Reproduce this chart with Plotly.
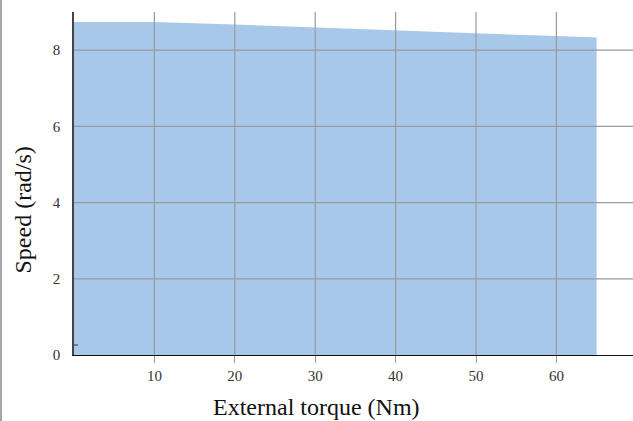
import plotly.graph_objects as go

# Data
torque = [0, 10, 20, 30, 40, 50, 60, 65]
speed = [8.74, 8.74, 8.67, 8.59, 8.52, 8.44, 8.37, 8.33]

x_ticks = [10, 20, 30, 40, 50, 60]
y_ticks = [0, 2, 4, 6, 8]
x_title = "External torque (Nm)"
y_title = "Speed (rad/s)"

W, H = 633, 421
ML, MR, MT, MB = 74, 0, 12, 66
pw, ph = W - ML - MR, H - MT - MB
xmax = pw / 8.04
ymax = 9.0

font = "Liberation Serif, Times New Roman, serif"
grid_col = "#9a9a9a"

fig = go.Figure()
fig.add_trace(go.Scatter(
    x=torque, y=speed, mode="lines", fill="tozeroy",
    line=dict(width=0, color="#a8c8ea"), fillcolor="#a8c8ea",
    hoverinfo="skip", showlegend=False))

shapes = []
for v in x_ticks:
    shapes.append(dict(type="line", xref="x", yref="paper", x0=v, x1=v, y0=0, y1=1,
                       line=dict(color=grid_col, width=1.2), layer="above"))
for v in y_ticks[1:]:
    shapes.append(dict(type="line", xref="paper", yref="y", x0=0, x1=1, y0=v, y1=v,
                       line=dict(color=grid_col, width=1.2), layer="above"))
# left page border line
shapes.append(dict(type="line", xref="paper", yref="paper",
                   x0=(1 - ML) / pw, x1=(1 - ML) / pw, y0=-(MB) / ph, y1=(H - MB) / ph,
                   line=dict(color="#8a8a8a", width=1.5), layer="above"))
# small inner tick near origin
shapes.append(dict(type="line", xref="paper", yref="paper",
                   x0=0, x1=4 / pw, y0=10 / ph, y1=10 / ph,
                   line=dict(color="#333", width=1), layer="above"))

fig.update_layout(
    width=W, height=H,
    margin=dict(l=ML, r=MR, t=MT, b=MB, pad=0),
    paper_bgcolor="white", plot_bgcolor="white",
    font=dict(family=font, size=15, color="#333"),
    shapes=shapes,
    xaxis=dict(range=[0, xmax], tickvals=x_ticks, showgrid=False, zeroline=False,
               showline=True, linecolor="#111", linewidth=1.3,
               ticks="outside", ticklen=7, tickcolor=grid_col, tickwidth=1.2,
               tickfont=dict(family=font, size=15, color="#333")),
    yaxis=dict(range=[0, ymax], tickvals=y_ticks, showgrid=False, zeroline=False,
               showline=True, linecolor="#444", linewidth=1.6,
               ticks="outside", ticklen=9, tickcolor="rgba(0,0,0,0)",
               tickfont=dict(family=font, size=15, color="#333")),
    annotations=[
        dict(text=x_title, xref="paper", yref="paper",
             x=(W / 2 - ML) / pw, y=-(407 - (MT + ph)) / ph,
             xanchor="center", yanchor="middle", showarrow=False,
             font=dict(family=font, size=24, color="#111")),
        dict(text=y_title, xref="paper", yref="paper",
             x=(22 - ML) / pw, y=((MT + ph) - H / 2) / ph,
             xanchor="center", yanchor="middle", showarrow=False, textangle=-90,
             font=dict(family=font, size=24, color="#111")),
    ],
)

fig.write_html("out.html", config={"displayModeBar": False},
               post_script="document.body.style.margin='0';")
